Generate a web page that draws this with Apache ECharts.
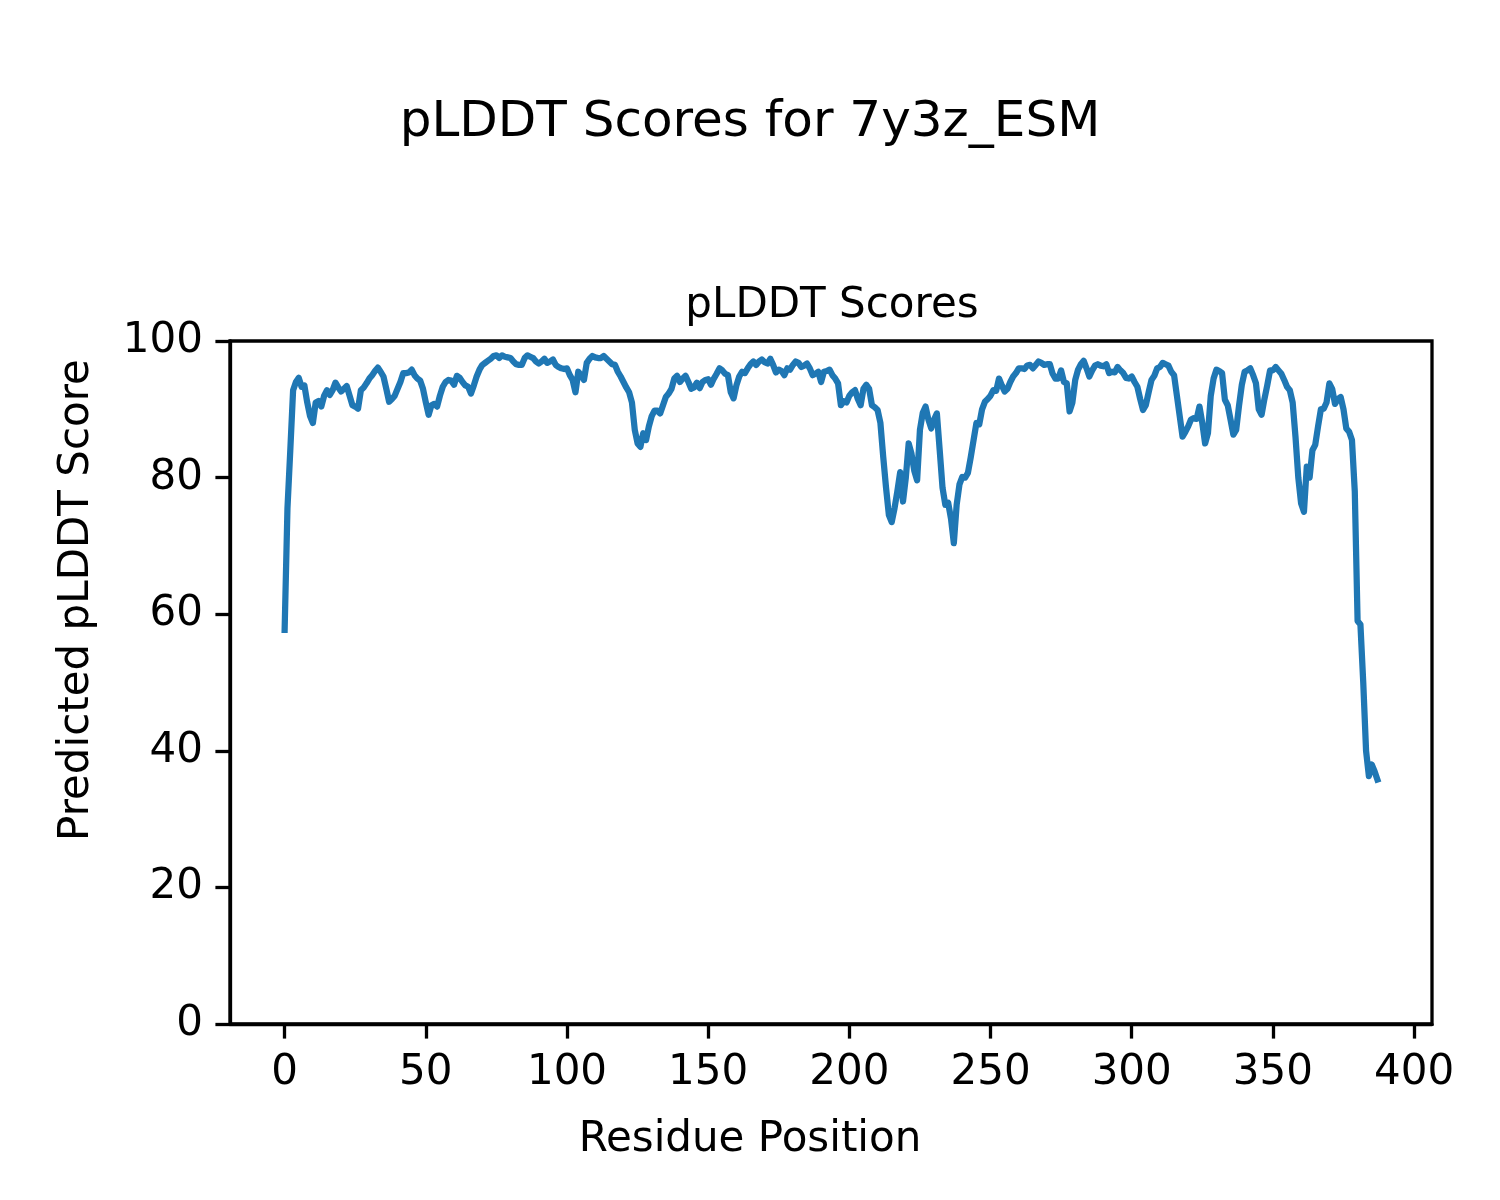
<!DOCTYPE html>
<html>
<head>
<meta charset="utf-8">
<script src="https://cdn.jsdelivr.net/npm/echarts@6/dist/echarts.min.js"></script>
<style>
html,body{margin:0;padding:0;background:#fff;}
#chart{width:1500px;height:1200px;}
</style>
</head>
<body>
<div id="chart"></div>
<script>
// pLDDT score per residue (residue positions 0..387)
const plddt = [
57.7,75.5,84,92.8,94,94.6,93.3,93.5,91,89,
88,91,91.2,90.4,92,92.8,92.1,92.8,93.9,93.2,
92.6,93,93.4,92,90.6,90.4,90.1,92.8,93.2,93.8,
94.5,95,95.6,96.1,95.5,94.8,93,91.1,91.5,92,
93,94,95.3,95.3,95.4,95.8,95,94.5,94.2,93,
91,89.2,90.6,90.8,90.4,92,93.3,94,94.3,94.2,
93.6,94.9,94.6,94,93.5,93.3,92.3,93.5,94.8,95.8,
96.5,96.8,97.1,97.4,97.8,97.9,97.5,97.9,97.7,97.6,
97.5,97,96.6,96.5,96.5,97.5,97.9,97.7,97.5,97,
96.7,97,97.4,96.8,97,97.3,96.5,96.2,96,95.9,
96,95,94.3,92.5,95.5,95,94.3,96.8,97.4,97.8,
97.6,97.5,97.5,97.8,97.4,97,96.6,96.5,95.5,94.8,
94,93.2,92.5,91,87,85,84.5,86.5,85.5,87.5,
89,89.8,89.8,89.4,90.6,91.8,92.3,93,94.5,94.9,
94,94.5,94.9,94,93,93.2,93.9,93.1,94,94.3,
94.4,93.6,94.5,95.2,96,95.7,95.2,95,92.5,91.6,
93.5,94.8,95.5,95.3,96,96.6,97,96.5,97,97.3,
96.9,96.7,97.4,96.5,95.4,95.8,95.6,95,96,95.8,
96.5,97,96.8,96.2,96.4,96.7,96,95,95.2,95.5,
94,95.5,95.6,95.8,95,94.5,93.8,90.6,91.2,91,
92,92.5,92.8,91.5,90.6,93,93.6,93,90.6,90.3,
89.9,88,83,78.5,74.5,73.5,75.5,78,80.8,76.5,
80,85,83.5,81,79.6,87,89.5,90.4,88.5,87.2,
88.5,89.4,84,78.5,76,76.3,74,70.4,76,79,
80.1,80,80.7,83,85.5,88,87.8,90,91.1,91.5,
92,92.8,92.7,94.5,93.5,92.6,93,94,94.8,95.3,
96,96,95.9,96.4,96.5,96,96.5,97,96.8,96.5,
96.6,96.6,95.2,94.5,94.5,95.7,94,93.8,89.7,91,
94.3,95.8,96.6,97.1,96,94.8,95.7,96.4,96.6,96.4,
96.3,96.6,95.3,95.5,95.4,96.2,95.7,95.3,94.6,94.5,
94.8,94,93.3,91.5,89.9,90.6,92.5,94.3,94.9,96,
96.2,96.8,96.6,96.4,95.5,95,92,89,86,86.7,
87.5,88.5,88.7,88.6,90.4,88,85,86.5,92,94.5,
95.8,95.6,95.3,91.4,90.6,88.5,86.3,87,90.5,93.6,
95.5,95.7,96,95,93.8,90,89.2,91.5,93.5,95.7,
95.7,96.2,95.7,95.2,94.3,93.3,92.8,91,86,80,
76.2,75,81.6,80,84,84.8,87.5,90,90.1,91,
93.8,93,90.8,91.5,91.8,90,87.2,86.7,85.5,78,
59,58.5,50,40,36.3,38,37,35.8
];
const residues = plddt.map((v, i) => i);
const xTicks = [0, 50, 100, 150, 200, 250, 300, 350, 400];
const yTicks = [0, 20, 40, 60, 80, 100];
const suptitle = 'pLDDT Scores for 7y3z_ESM';
const axTitle = 'pLDDT Scores';
const xName = 'Residue Position';
const yName = 'Predicted pLDDT Score';

const FONT = 'DejaVu Sans';
const pts = residues.map((x, i) => [x, plddt[i]]);
const xSpan = residues[residues.length - 1] - residues[0];

const chart = echarts.init(document.getElementById('chart'), null, {renderer: 'canvas'});
chart.setOption({
  animation: false,
  backgroundColor: '#ffffff',
  title: [
    {text: suptitle, left: 'center', top: 93,
     textStyle: {fontFamily: FONT, fontSize: 50, fontWeight: 'normal', color: '#000'}},
    {text: axTitle, left: 827, top: 280, textAlign: 'center',
     textStyle: {fontFamily: FONT, fontSize: 42, fontWeight: 'normal', color: '#000'}}
  ],
  graphic: [
    {type: 'text', x: 750, y: 1140,
     style: {text: xName, font: '42px "DejaVu Sans"', fill: '#000', align: 'center', verticalAlign: 'middle'}},
    {type: 'text', x: 77, y: 600, rotation: Math.PI / 2,
     style: {text: yName, font: '42px "DejaVu Sans"', fill: '#000', align: 'center', verticalAlign: 'middle'}}
  ],
  grid: {left: 230, top: 341, width: 1202, height: 683, show: true,
         borderColor: '#000', borderWidth: 3.3, backgroundColor: 'transparent'},
  xAxis: {
    type: 'value',
    min: residues[0] - 0.05 * xSpan,
    max: residues[residues.length - 1] + 0.05 * xSpan,
    axisLine: {show: true, onZero: false, lineStyle: {color: '#000', width: 3.3}},
    axisTick: {show: true, inside: false, length: 14.6, customValues: xTicks,
               lineStyle: {color: '#000', width: 3.3}},
    axisLabel: {customValues: xTicks, margin: 28, fontFamily: FONT, fontSize: 42, color: '#000'},
    splitLine: {show: false}
  },
  yAxis: {
    type: 'value', min: yTicks[0], max: yTicks[yTicks.length - 1], interval: 20,
    axisLine: {show: true, onZero: false, lineStyle: {color: '#000', width: 3.3}},
    axisTick: {show: true, inside: false, length: 14.6, lineStyle: {color: '#000', width: 3.3}},
    axisLabel: {margin: 27, fontFamily: FONT, fontSize: 42, color: '#000'},
    splitLine: {show: false}
  },
  series: [{
    type: 'line',
    data: pts,
    showSymbol: false,
    symbol: 'none',
    lineStyle: {color: '#1f77b4', width: 6.25, cap: 'square', join: 'round'},
    z: 3
  }]
});
</script>
</body>
</html>
